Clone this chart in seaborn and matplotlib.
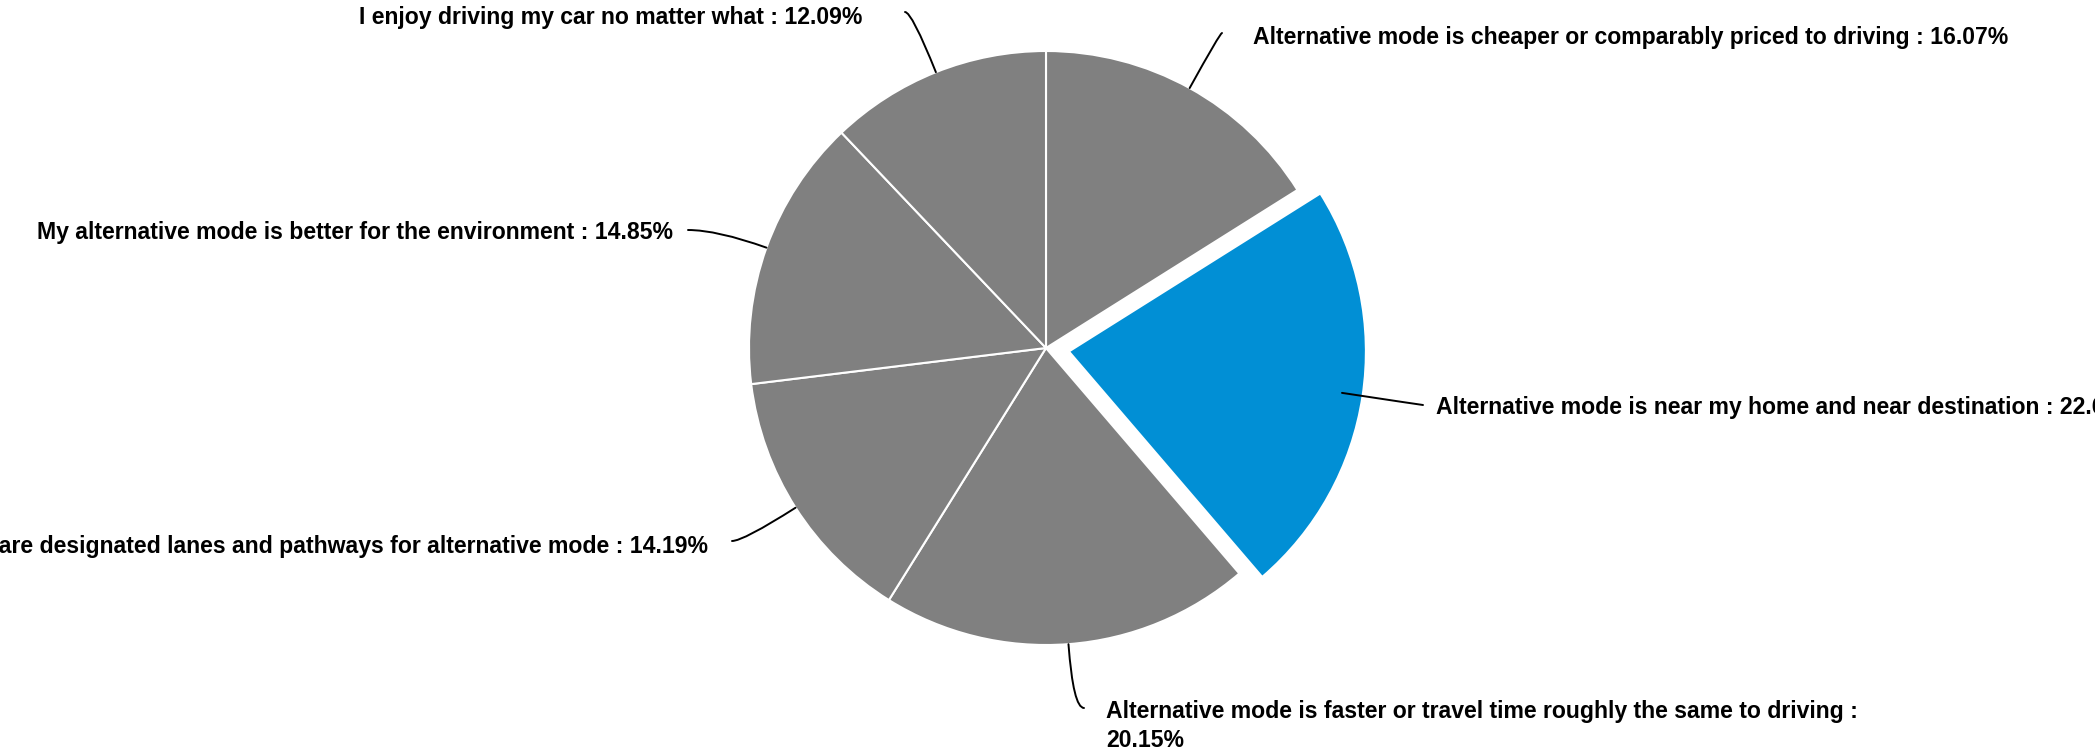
import numpy as np
import matplotlib
matplotlib.use("Agg")
import matplotlib.pyplot as plt
import seaborn as sns

# survey answers, clockwise from 12 o'clock
categories = [
    "Alternative mode is cheaper or comparably priced to driving",
    "Alternative mode is near my home and near destination",
    "Alternative mode is faster or travel time roughly the same to driving",
    "There are designated lanes and pathways for alternative mode",
    "My alternative mode is better for the environment",
    "I enjoy driving my car no matter what",
]
shares = [16.07, 22.65, 20.15, 14.19, 14.85, 12.09]
highlight = "Alternative mode is near my home and near destination"

sns.set_theme(style="white")
plt.rcParams["font.family"] = ["Liberation Sans", "DejaVu Sans"]

W, H = 2095, 753
RADIUS = 297
fig = plt.figure(figsize=(W / 100, H / 100), dpi=100, facecolor="white")
ax = fig.add_axes([0, 0, 1, 1])

colors = ["#018fd5" if c == highlight else "#808080" for c in categories]
# pie() offsets exploded wedges in data units, not fractions of the radius
explode = [0.078 * RADIUS if c == highlight else 0 for c in categories]

wedges, _ = ax.pie(shares, colors=colors, explode=explode, startangle=90,
                   counterclock=False, center=(1046, H - 348), radius=RADIUS,
                   wedgeprops=dict(edgecolor="white", linewidth=1.5))
ax.set_xlim(0, W)
ax.set_ylim(0, H)
ax.set_aspect("equal")
ax.axis("off")

# label layout (pixel positions, top origin): text x, text y, align, connector end
layout = [
    (1253, 37, "left", (1222, 33)),
    (1436, 407, "left", (1423, 405)),
    (1106, 726, "left", (1084, 708)),
    (708, 546, "right", (732, 541)),
    (673, 232, "right", (688, 230)),
    (862, 17, "right", (905, 12)),
]

for wedge, cat, val, (tx, ty, ha, (cx, cy)) in zip(wedges, categories, shares, layout):
    label = f"{cat} : {val:.2f}%"
    if cat.startswith("Alternative mode is faster"):
        label = f"{cat} :\n{val:.2f}%"
    ax.text(tx, H - ty, label, ha=ha, va="center", fontsize=16.6,
            fontweight="bold", color="black", linespacing=1.3)

    mid = np.deg2rad((wedge.theta1 + wedge.theta2) / 2)
    r = wedge.r * (0.93 if cat == highlight else 1.0)
    ex = wedge.center[0] + r * np.cos(mid)
    ey = wedge.center[1] + r * np.sin(mid)
    ax.annotate("", xy=(ex, ey), xytext=(cx, H - cy),
                arrowprops=dict(arrowstyle="-", color="black", lw=1.4,
                                shrinkA=0, shrinkB=0,
                                connectionstyle=f"angle3,angleA=0,angleB={np.rad2deg(mid):.1f}"))

fig.savefig("out.png", dpi=100, facecolor="white")
plt.close(fig)
